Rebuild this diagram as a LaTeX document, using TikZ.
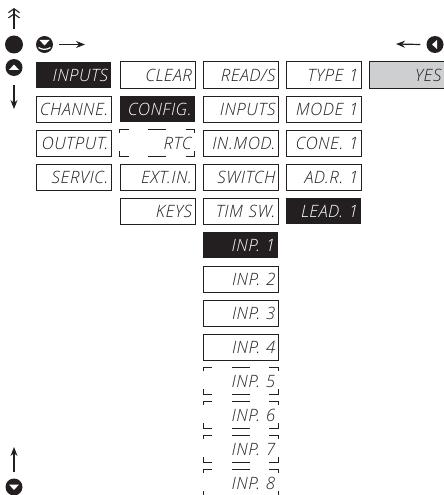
\documentclass[tikz,border=0pt]{standalone}
\usepackage{fontspec}
\setmainfont{Open Sans Light}[ItalicFont={Open Sans Light Italic},LetterSpace=3]
\usetikzlibrary{arrows.meta,calc}
\definecolor{ink}{RGB}{35,31,32}
\definecolor{lcdgrey}{RGB}{205,207,208}
\tikzset{
  base/.style={minimum width=75pt,minimum height=26.5pt,anchor=north west,inner sep=0pt,text width=69pt,align=right,
    text height=12.5pt,text depth=0pt,font=\fontsize{17}{17}\selectfont\itshape,text=ink},
  plainbox/.style={base,draw=ink,line width=1pt,fill=white},
  onbox/.style={base,fill=ink,text=white},
  greybox/.style={base,draw=ink,line width=1pt,fill=lcdgrey},
  openbox/.style={base},
  frag/.style={draw=ink,line width=1pt},
  btn/.style={circle,fill=ink,inner sep=0pt,minimum size=17pt},
  bigbtn/.style={circle,fill=ink,inner sep=0pt,minimum size=18pt},
  mv/.style={draw=ink,line width=1.2pt,-{Stealth[length=9pt,width=7pt]}},
  mvtwo/.style={draw=ink,line width=1.1pt,-{Straight Barb[length=4pt,width=11pt] Straight Barb[length=4pt,width=11pt]}},
  tri/.style={fill=white,draw=none}
}
\newcommand{\openframe}[1]{%
  \draw[frag] ($(#1.north west)+(0,3.5)$) -- (#1.north west) -- ++(9,0);
  \draw[frag] ($(#1.north)+(-9,0)$) -- ++(18,0);
  \draw[frag] ($(#1.north east)+(-9,0)$) -- (#1.north east) -- ++(0,3.5);
  \draw[frag] ($(#1.south west)+(0,-5)$) -- (#1.south west) -- ++(9,0);
  \draw[frag] ($(#1.south)+(-9,0)$) -- ++(18,0);
  \draw[frag] ($(#1.south east)+(-9,0)$) -- (#1.south east) -- ++(0,-5);
}
\begin{document}
\begin{tikzpicture}[x=1pt,y=-1pt]
\useasboundingbox (0,0) rectangle (444,495);
\clip (0,0) rectangle (444,495);
% column 1
\node[onbox]    (a1) at (36,61.5)  {INPUTS};
\node[plainbox] (a2) at (36,95.5)  {CHANNE.};
\node[plainbox] (a3) at (36,129.5) {OUTPUT.};
\node[plainbox] (a4) at (36,163.5) {SERVIC.};
% column 2
\node[plainbox] (b1) at (119.5,61.5)  {CLEAR};
\node[onbox]    (b2) at (119.5,95.5)  {CONFIG.};
\node[openbox]  (b3) at (119.5,129.5) {RTC};
\node[plainbox] (b4) at (119.5,163.5) {EXT.IN.};
\node[plainbox] (b5) at (119.5,197.5) {KEYS};
% column 3
\node[plainbox] (c1) at (203,61.5)  {READ/S};
\node[plainbox] (c2) at (203,95.5)  {INPUTS};
\node[plainbox] (c3) at (203,129.5) {IN.MOD.};
\node[plainbox] (c4) at (203,163.5) {SWITCH};
\node[plainbox] (c5) at (203,197.5) {TIM SW.};
\node[onbox]    (c6) at (203,231.5) {INP. 1};
\node[plainbox] (c7) at (203,265.5) {INP. 2};
\node[plainbox] (c8) at (203,299.5) {INP. 3};
\node[plainbox] (c9) at (203,333.5) {INP. 4};
\node[openbox]  (c10) at (203,367.5) {INP. 5};
\node[openbox]  (c11) at (203,401.5) {INP. 6};
\node[openbox]  (c12) at (203,435.5) {INP. 7};
\node[openbox]  (c13) at (203,469.5) {INP. 8};
% column 4
\node[plainbox] (d1) at (286,61.5)  {TYPE 1};
\node[plainbox] (d2) at (286,95.5)  {MODE 1};
\node[plainbox] (d3) at (286,129.5) {CONE. 1};
\node[plainbox] (d4) at (286,163.5) {AD.R. 1};
\node[onbox]    (d5) at (286,197.5) {LEAD. 1};
% column 5
\node[greybox]  (e1) at (369,61.5)  {YES};
\openframe{b3}\openframe{c10}\openframe{c11}\openframe{c12}\openframe{c13}
% buttons
\node[bigbtn] (enter) at (14,44.5) {};
\node[btn] (upb) at (14,67.5) {};
\fill[tri] ($(upb)+(-5,2.5)$) -- ($(upb)+(5,2.5)$) -- ($(upb)+(0,-3)$) -- cycle;
\node[btn] (downb) at (44.5,44.5) {};
\fill[tri] ($(downb)+(-5,-4.5)$) -- ($(downb)+(5,-4.5)$) -- ($(downb)+(0,1)$) -- cycle;
\draw[white,line width=1.2pt] ($(downb)+(-6,3)$) .. controls ($(downb)+(-2,5.5)$) and ($(downb)+(2,5.5)$) .. ($(downb)+(6,3)$);
\node[btn] (leftb) at (435,44.5) {};
\fill[tri] ($(leftb)+(2,-4.5)$) -- ($(leftb)+(2,4.5)$) -- ($(leftb)+(-3,0)$) -- cycle;
\node[btn] (lowb) at (14,487) {};
\fill[tri] ($(lowb)+(-5,-2.5)$) -- ($(lowb)+(5,-2.5)$) -- ($(lowb)+(0,3)$) -- cycle;
% arrows
\coordinate (t1) at (14,8);
\coordinate (t2) at (14,109);
\coordinate (t3) at (85,44.5);
\coordinate (t4) at (396,44);
\coordinate (t5) at (14,447);
\draw[mvtwo] (enter.north) ++(0,-6) -- (t1);
\draw[mv] (upb.south) ++(0,9) -- (t2);
\draw[mv] (downb.east) ++(6,0) -- (t3);
\draw[mv] (leftb.west) ++(-6,0) -- (t4);
\draw[mv] (lowb.north) ++(0,-6) -- (t5);
\end{tikzpicture}
\end{document}
